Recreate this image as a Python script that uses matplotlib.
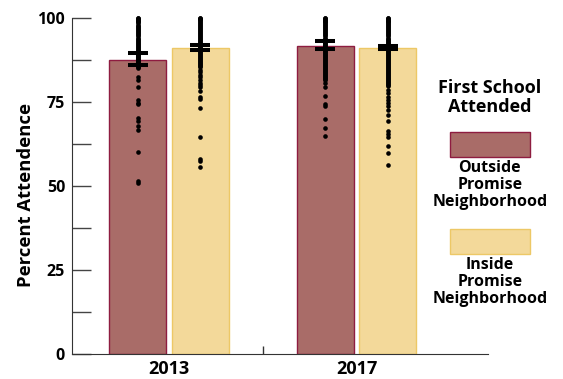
import matplotlib
matplotlib.use("Agg")
import matplotlib.pyplot as plt
from matplotlib.patches import Rectangle
from matplotlib.ticker import MultipleLocator, FixedLocator

plt.rcParams['font.family'] = ['Open Sans', 'DejaVu Sans']
plt.rcParams['font.weight'] = 'bold'

years = ["2013", "2017"]
groups = ["Outside\nPromise\nNeighborhood", "Inside\nPromise\nNeighborhood"]
legend_title = "First School\nAttended"

means_outside = [87.5, 91.8]
means_inside = [91.0, 91.0]
low_outside = [86.1, 90.8]
high_outside = [89.7, 93.2]
low_inside = [90.5, 90.9]
high_inside = [92.0, 91.8]

pts_2013_outside = [100, 100, 99.8, 99.5, 99.2, 99, 98.7, 98.4, 98, 97.7, 97.3, 97.1, 96.8, 96.4,
                    96, 95.8, 95.5, 95.2, 95, 94.6, 94.2, 93.9, 93.6, 93.3, 93, 92.7, 92.4, 92.1,
                    91.8, 91.4, 91, 90.8, 90.5, 90.2, 90, 89.6, 89.3, 89, 88.7, 88.4, 88, 87.7,
                    87.4, 87.1, 86.8, 86.5, 86.2, 85.9, 85.6, 85.3, 85.0,
                    82.4, 81.6, 79.6, 75.6, 74.8, 74.3, 70.2, 69.5, 67.8, 66.8, 60.1, 51.5, 51.0]
pts_2013_inside = [100, 100, 99.8, 99.6, 99.3, 99, 98.8, 98.5, 98.2, 98, 97.7, 97.4, 97.1, 96.8,
                   96.5, 96.2, 95.9, 95.6, 95.3, 95, 94.7, 94.4, 94.1, 93.8, 93.5, 93.2, 92.9,
                   92.6, 92.3, 92, 91.7, 91.4, 91.1, 90.8, 90.5, 90.2, 89.9, 89.6, 89.3, 89,
                   88.7, 88.4, 88.1, 87.8, 87.5, 87.2, 86.9, 86.6, 86.3, 86, 85.7, 85.4,
                   84.6, 83.8, 83.1, 82.4, 81.6, 80.8, 80.1, 79.4, 78.4, 76.6, 75.9, 73.2,
                   64.5, 58.2, 57.4, 55.6]
pts_2017_outside = [100, 100, 99.8, 99.5, 99.2, 99, 98.7, 98.4, 98.1, 97.8, 97.5, 97.2, 96.9,
                    96.6, 96.3, 96, 95.7, 95.4, 95.1, 94.8, 94.5, 94.2, 93.9, 93.6, 93.3, 93,
                    92.7, 92.4, 92.1, 91.8, 91.5, 91.2, 90.9, 90.6, 90.3, 90, 89.7, 89.4, 89.1,
                    88.8, 88.5, 88.2, 87.9, 87.6, 87.3, 87, 86.7, 86.4, 86.1, 85.8, 85.5, 85.2,
                    84.9, 84.6, 84.3, 84, 83.7, 83.4, 83.1, 82.8, 82.5, 82.2, 81.9, 81.6,
                    80.6, 79.4, 76.9, 74.5, 73.7, 69.9, 67.3, 65.0]
pts_2017_inside = [100, 100, 99.8, 99.5, 99.2, 99, 98.7, 98.4, 98.1, 97.8, 97.5, 97.2, 96.9,
                   96.6, 96.3, 96, 95.7, 95.4, 95.1, 94.8, 94.5, 94.2, 93.9, 93.6, 93.3, 93,
                   92.7, 92.4, 92.1, 91.8, 91.5, 91.2, 90.9, 90.6, 90.3, 90, 89.7, 89.4, 89.1,
                   88.8, 88.5, 88.2, 87.9, 87.6, 87.3, 87, 86.7, 86.4, 86.1, 85.8, 85.5, 85.2,
                   84.9, 84.6, 84.3, 84, 83.7, 83.4, 83.1, 82.8, 82.5, 82.2, 81.9, 81.6,
                   81.3, 81, 80.7, 80.4, 80.1, 79.8,
                   78.6, 77.7, 76.6, 75.7, 74.7, 73.7, 72.7, 71.2, 69.5, 66.3, 65.5, 64.6,
                   61.8, 59.8, 56.4]

c_out_fill, c_out_edge = "#A96C68", "#8E1C40"
c_in_fill, c_in_edge = "#F3D99A", "#EDC866"

fig = plt.figure(figsize=(5.63, 3.79), dpi=100)
ax = fig.add_axes([0.1279, 0.0652, 0.7389, 0.8873])

x = [0, 1]
off = 0.167
w = 0.304
xo = [xi - off for xi in x]
xi_ = [xi + off for xi in x]
ax.bar(xo, means_outside, width=w, color=c_out_fill, edgecolor=c_out_edge, linewidth=1, zorder=2)
ax.bar(xi_, means_inside, width=w, color=c_in_fill, edgecolor=c_in_edge, linewidth=1, zorder=2)

pts = [(xo[0], pts_2013_outside), (xi_[0], pts_2013_inside),
       (xo[1], pts_2017_outside), (xi_[1], pts_2017_inside)]
for px, vals in pts:
    ax.scatter([px] * len(vals), vals, s=11, color="black", linewidths=0, zorder=3,
               clip_on=False)

for xs, m, lo, hi in [(xo, means_outside, low_outside, high_outside),
                      (xi_, means_inside, low_inside, high_inside)]:
    yerr = [[mi - l for mi, l in zip(m, lo)], [h - mi for mi, h in zip(m, hi)]]
    ax.errorbar(xs, m, yerr=yerr, fmt="none", ecolor="black", elinewidth=2.9,
                capsize=6.85, capthick=2.9, zorder=4)

ax.set_xlim(-0.517, 1.701)
ax.set_ylim(0, 100)
for s in ["top", "right"]:
    ax.spines[s].set_visible(False)
ax.spines["left"].set_color("#333333")
ax.spines["bottom"].set_color("#333333")

ax.yaxis.set_major_locator(MultipleLocator(25))
ax.yaxis.set_minor_locator(MultipleLocator(12.5))
ax.tick_params(axis="y", which="both", direction="in", length=13.7, width=1, color="#444444",
               labelsize=11.5, pad=5)
ax.set_xticks(x)
ax.set_xticklabels(years)
ax.xaxis.set_minor_locator(FixedLocator([0.5]))
ax.tick_params(axis="x", which="major", length=0, labelsize=13, pad=4)
ax.tick_params(axis="x", which="minor", direction="in", length=5.5, width=1, color="#333333")
for lab in ax.get_xticklabels() + ax.get_yticklabels():
    lab.set_fontweight("bold")

ax.set_ylabel("Percent Attendence", fontsize=13.3, fontweight="bold")
ax.yaxis.set_label_coords(-0.089, 0.474)

# legend
fig.text(0.870, 0.7427, legend_title, ha="center", va="center", fontsize=13,
         fontweight="bold", linespacing=1.05)
fig.add_artist(Rectangle((0.7993, 0.585), 0.1421, 0.0675, transform=fig.transFigure,
                         facecolor=c_out_fill, edgecolor=c_out_edge, linewidth=1))
fig.text(0.870, 0.512, groups[0], ha="center", va="center", fontsize=11.5,
         fontweight="bold", linespacing=1.05)
fig.add_artist(Rectangle((0.7993, 0.329), 0.1421, 0.066, transform=fig.transFigure,
                         facecolor=c_in_fill, edgecolor=c_in_edge, linewidth=1))
fig.text(0.870, 0.256, groups[1], ha="center", va="center", fontsize=11.5,
         fontweight="bold", linespacing=1.05)

fig.savefig("out.png", dpi=100)
